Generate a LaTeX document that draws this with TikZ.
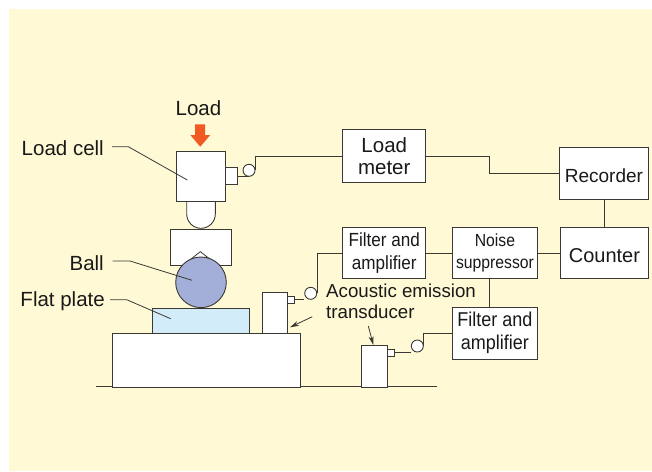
\documentclass[tikz,border=0pt]{standalone}
\usepackage{fontspec}
\usetikzlibrary{arrows.meta}
\setmainfont{Liberation Sans}
\newfontfamily\narrowf[FakeStretch=0.9]{Liberation Sans}
\definecolor{bgy}{HTML}{FFFAD5}
\definecolor{lc}{HTML}{3A3833}
\definecolor{ballc}{HTML}{A3AFD9}
\definecolor{platec}{HTML}{D3ECF9}
\definecolor{orng}{HTML}{F15A22}
\tikzset{
 part/.style={draw=lc,line width=0.9pt,fill=white},
 wire/.style={draw=lc,line width=0.8pt},
 txt/.style={inner sep=0pt,text=black!90,font=\fontsize{20.5}{24}\selectfont,align=center},
 blockbox/.style={rectangle,draw=lc,line width=0.9pt,fill=white,inner sep=0pt,anchor=north west,align=center,text=black!90},
 jack/.style={circle,draw=lc,line width=0.9pt,fill=white,inner sep=0pt,minimum size=12pt},
 tip/.style={-{Stealth[length=9pt,width=5pt]}},
}
\begin{document}
\begin{tikzpicture}[x=1pt,y=-1pt]
\useasboundingbox (0,0) rectangle (652,471);
\fill[white] (0,0) rectangle (652,471);
\fill[bgy] (9,9) rectangle (652,471);
% ground and mechanical stack
\draw[wire] (96,386.7) -- (437,386.7);
\draw[part] (186.7,201) -- (186.7,214) arc[start angle=180,end angle=0,radius=14.3] -- (215.3,201);
\draw[part] (170.7,229) -- (231.3,229) -- (231.3,265.3) -- (170.7,265.3) -- cycle;
\node[blockbox,minimum width=97.6pt,minimum height=25.6pt,fill=platec] (plate) at (151.7,307.7) {};
\draw[wire,fill=white] (183,265.3) -- (200.3,251.7) -- (218,265.3);
\node[circle,draw=lc,line width=0.9pt,fill=ballc,minimum size=50.6pt,inner sep=0pt] (ball) at (201,282.3) {};
\node[blockbox,minimum width=188.6pt,minimum height=53.4pt] (base) at (111.7,333.3) {};
\node[blockbox,minimum width=49.6pt,minimum height=50.3pt] (cell) at (175.7,150.7) {};
\node[blockbox,minimum width=12pt,minimum height=16.7pt] (cellbox) at (225.3,167.3) {};
\node[blockbox,minimum width=25pt,minimum height=41pt] (t1) at (262.3,292.3) {};
\node[blockbox,minimum width=7pt,minimum height=7.3pt] (t1box) at (287.3,295.7) {};
\node[blockbox,minimum width=25.4pt,minimum height=41.4pt] (t2) at (361.3,345.3) {};
\node[blockbox,minimum width=7pt,minimum height=7.3pt] (t2box) at (386.7,348.7) {};
% jacks
\node[jack] (j0) at (249,170.3) {};
\node[jack] (j1) at (310.7,293.3) {};
\node[jack] (j2) at (417.3,346) {};
% instruments
\node[blockbox,minimum width=83pt,minimum height=52.7pt,font=\fontsize{20.5}{21.5}\selectfont] (meter) at (342.3,129.3) {Load\\meter};
\node[blockbox,minimum width=89pt,minimum height=52.6pt,font=\fontsize{19}{23}\selectfont] (rec) at (559,146.7) {\raisebox{-2pt}[.72em][0pt]{Recorder}};
\node[blockbox,minimum width=88pt,minimum height=51.6pt,font=\fontsize{20}{24}\selectfont] (cnt) at (560,226.7) {\raisebox{-2pt}[.72em][0pt]{Counter}};
\node[blockbox,minimum width=83pt,minimum height=51.6pt,font=\narrowf\fontsize{19}{23}\selectfont] (f1) at (342.3,226.7) {Filter and\\amplifier};
\node[blockbox,minimum width=85.6pt,minimum height=51.6pt,font=\narrowf\fontsize{17.5}{22.5}\selectfont] (ns) at (451.7,226.7) {Noise\\suppressor};
\node[blockbox,minimum width=85.6pt,minimum height=52.3pt,font=\narrowf\fontsize{20}{23}\selectfont] (f2) at (451.7,306.7) {Filter and\\amplifier};
% wires
\coordinate (tapx) at (489.3,0);
\draw[wire] (cellbox.east) -- (cellbox.east -| j0.south);
\draw[wire] (j0.east) |- (meter.west);
\draw[wire] (t1box.east) -- (t1box.east -| j1.west);
\draw[wire] (j1.east) |- (f1.west);
\draw[wire] (t2box.east) -- (t2box.east -| j2.west);
\draw[wire] (j2.east) |- (f2.west);
\draw[wire] (meter.east) -- (meter.east -| tapx) |- (rec.west);
\draw[wire] (rec.south) -- (rec.south |- cnt.north);
\draw[wire] (f1.east) -- (ns.west);
\draw[wire] (ns.east) -- (cnt.west);
\draw[wire] (tapx |- ns.south) -- (tapx |- f2.north);
% labels
\node[txt] (lload) at (198.5,108) {Load};
\node[txt,anchor=east] (lcell) at (104,148) {Load cell};
\node[txt,anchor=east] (lball) at (104,263) {Ball};
\node[txt,anchor=east] (lplate) at (105,301) {Flat plate};
\node[txt,anchor=base west,font=\fontsize{18.7}{23}\selectfont] (lae) at (326,297) {Acoustic emission};
\node[txt,anchor=base west,font=\fontsize{18.7}{23}\selectfont] (ltr) at (326,318.7) {transducer};
% load arrow
\fill[orng] (195,124.3) -- (205,124.3) -- (205,135) -- (210.3,135) -- (200.3,146.7) -- (190.3,135) -- (195,135) -- cycle;
% leaders
\coordinate (c1) at (187.3,180);
\coordinate (c2) at (192,280.3);
\coordinate (c3) at (170.7,318.7);
\draw[wire] (112,146.7) -- (128.3,146.7) -- (c1);
\draw[wire] (112.7,261) -- (130,261) -- (c2);
\draw[wire] (110,299.7) -- (126.7,299.7) -- (c3);
% arrows to transducers
\coordinate (a1) at (312.3,316.7);
\coordinate (a1e) at (290,327.3);
\coordinate (a2) at (368.3,326);
\coordinate (a2e) at (373.3,345);
\draw[wire,tip] (a1) -- (a1e);
\draw[wire,tip] (a2) -- (a2e);
\end{tikzpicture}
\end{document}
